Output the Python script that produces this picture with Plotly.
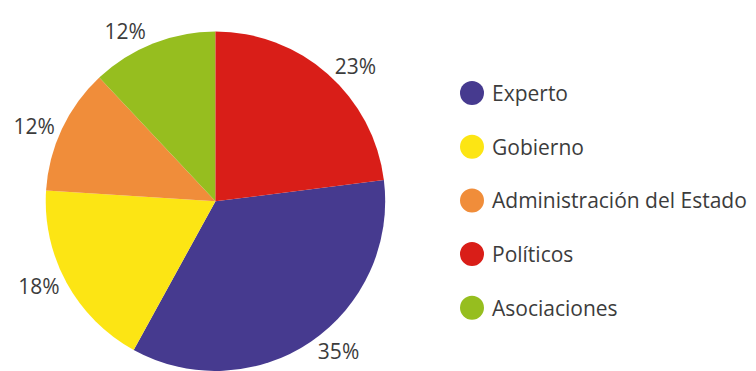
import plotly.graph_objects as go

# Legend order
categories = ["Experto", "Gobierno", "Administración del Estado", "Políticos", "Asociaciones"]
shares = [35, 18, 12, 23, 12]
colors = ["#463A8F", "#FCE514", "#F08D3A", "#D91E18", "#96BE1F"]

# Clockwise slice order; the last slice (Políticos) ends at 12 o'clock
slice_order = ["Experto", "Gobierno", "Administración del Estado", "Asociaciones", "Políticos"]
slice_idx = [categories.index(c) for c in slice_order]
slice_labels = [categories[i] for i in slice_idx]
slice_values = [shares[i] for i in slice_idx]
slice_colors = [colors[i] for i in slice_idx]

W, H = 756, 371
FONT = "Open Sans"
TEXT_COLOR = "#3c3c3c"

rotation = 360 * slice_values[-1] / sum(slice_values)

fig = go.Figure(
    go.Pie(
        labels=slice_labels,
        values=slice_values,
        sort=False,
        direction="clockwise",
        rotation=rotation,
        marker=dict(colors=slice_colors, line=dict(width=0)),
        texttemplate="%{percent:.0%}",
        textposition="outside",
        automargin=False,
        outsidetextfont=dict(family=FONT, size=21, color=TEXT_COLOR),
        domain=dict(x=[0, 0.57], y=[0, 0.915]),
        showlegend=False,
        hoverinfo="label+percent",
    )
)

# Legend drawn as circle markers with labels
legend_x = 472
legend_y0 = 93
legend_step = 53.7
shapes = []
annotations = []
for i, (name, col) in enumerate(zip(categories, colors)):
    cy = legend_y0 + i * legend_step
    shapes.append(dict(
        type="circle", xref="paper", yref="paper",
        xsizemode="pixel", ysizemode="pixel",
        xanchor=legend_x / W, yanchor=1 - cy / H,
        x0=-12, x1=12, y0=-12, y1=12,
        fillcolor=col, line=dict(width=0),
    ))
    annotations.append(dict(
        text=name, xref="paper", yref="paper",
        x=(legend_x + 18) / W, y=1 - cy / H,
        xanchor="left", yanchor="middle", showarrow=False,
        font=dict(family=FONT, size=21, color=TEXT_COLOR),
    ))

fig.update_layout(
    width=W, height=H,
    margin=dict(l=0, r=0, t=0, b=0, autoexpand=False),
    paper_bgcolor="white", plot_bgcolor="white",
    shapes=shapes, annotations=annotations,
)

fig.write_html("out.html")
